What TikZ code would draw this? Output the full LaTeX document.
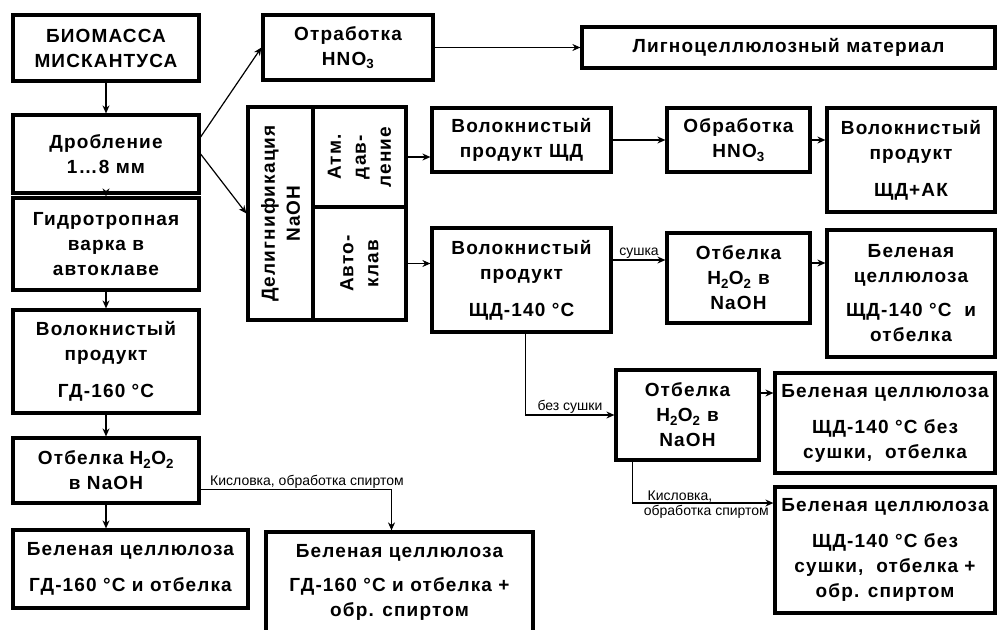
\documentclass[tikz,border=0pt]{standalone}
\usepackage{fontspec}
\setmainfont{Liberation Sans}
\newfontfamily\boxfont{Liberation Sans}[LetterSpace=6]
\usetikzlibrary{arrows.meta}

\tikzset{
  box/.style={draw, line width=3.2pt, align=center, inner sep=2pt,
    font=\boxfont\bfseries\fontsize{19}{25}\selectfont},
  arr/.style={line width=1.2pt, -{Stealth[length=8pt,width=7pt]}},
  lbl/.style={font=\fontsize{14}{15}\selectfont, inner sep=1pt},
}

\begin{document}
\begin{tikzpicture}[x=1pt,y=-1pt]
\useasboundingbox[fill=white] (0,0) rectangle (1000,629);

% Left column
\node[box, minimum width=186, minimum height=66] (bio) at (106,48) {БИОМАССА\\МИСКАНТУСА};
\node[box, minimum width=186, minimum height=78] (drob) at (106,154) {Дробление\\1…8 мм};
\node[box, minimum width=186, minimum height=92] (gidro) at (106,244) {Гидротропная\\варка в\\автоклаве};
\node[box, minimum width=186, minimum height=103] (volgd) at (106,361.5) {Волокнистый\\продукт\\[12pt]ГД-160 °С};
\node[box, minimum width=186, minimum height=65] (otbgd) at (106,470.5) {Отбелка H\textsubscript{2}O\textsubscript{2}\\в NaOH};
\node[box, minimum width=235, minimum height=78] (belgd) at (130.5,569) {Беленая целлюлоза\\[11pt]ГД-160 °С и отбелка};
\node[box, minimum width=267, minimum height=101] (belsp) at (399.5,582.5) {Беленая целлюлоза\\[9pt]ГД-160 °С и отбелка +\\обр. спиртом};

% Top row
\node[box, minimum width=170, minimum height=65] (otrab) at (348,47.5) {Отработка\\HNO\textsubscript{3}};
\node[box, minimum width=413, minimum height=41] (ligno) at (788.5,47.5) {Лигноцеллюлозный материал};

% Delignification block
\node[box, rotate=90, minimum width=213, minimum height=65] (delig) at (280.5,213.5) {Делигнификация\\NaOH};
\node[box, rotate=90, minimum width=100, minimum height=93] (atm) at (359.5,157) {Атм.\\дав-\\ление};
\node[box, rotate=90, minimum width=113, minimum height=93] (avt) at (359.5,263.5) {Авто-\\клав};

% Alkaline branch
\node[box, minimum width=179, minimum height=64] (shd) at (521.5,140) {Волокнистый\\продукт ЩД};
\node[box, minimum width=143, minimum height=64] (obr) at (738.5,140) {Обработка\\HNO\textsubscript{3}};
\node[box, minimum width=168, minimum height=104] (shdak) at (911,160) {Волокнистый\\продукт\\[12pt]ЩД+АК};
\node[box, minimum width=179, minimum height=104] (shd140) at (521.5,280) {Волокнистый\\продукт\\[12pt]ЩД-140 °С};
\node[box, minimum width=143, minimum height=90] (otb1) at (738.5,278) {Отбелка\\H\textsubscript{2}O\textsubscript{2} в\\NaOH};
\node[box, minimum width=168, minimum height=127] (bel1) at (911,293.5) {Беленая\\целлюлоза\\[9pt]ЩД-140 °С\ \ и\\отбелка};
\node[box, minimum width=143, minimum height=90] (otb2) at (687.5,415) {Отбелка\\H\textsubscript{2}O\textsubscript{2} в\\NaOH};
\node[box, minimum width=220, minimum height=100] (bel2) at (885,423) {Беленая целлюлоза\\[11pt]ЩД-140 °С без\\сушки,\ \ отбелка};
\node[box, minimum width=220, minimum height=126] (bel3) at (885,550) {Беленая целлюлоза\\[11pt]ЩД-140 °С без\\сушки,\ \ отбелка +\\обр. спиртом};

% Arrows, left column
\draw[arr] (bio.south) -- (drob.north);
\draw[arr] (drob.south) -- (gidro.north);
\draw[arr] (gidro.south) -- (volgd.north);
\draw[arr] (volgd.south) -- (otbgd.north);
\draw[arr] (otbgd.south) -- (otbgd.south |- belgd.north);
\draw[arr] ([yshift=-19]otbgd.east) -| node[lbl, anchor=south west, pos=0, xshift=8] (lblkis) {Кисловка, обработка спиртом} ([xshift=-8]belsp.north);

% Arrows from crushing
\draw[arr] ([yshift=17]drob.east) -- (otrab.west);
\draw[arr] (drob.east) -- (delig.north);
\draw[arr] (otrab.east) -- (otrab.east -| ligno.west);

% Arrows, alkaline branch
\draw[arr] (atm.south) -- (atm.south -| shd.west);
\draw[arr] (avt.south) -- (avt.south -| shd140.west);
\draw[arr] (shd.east) -- (obr.west);
\draw[arr] (obr.east) -- (obr.east -| shdak.west);
\draw[arr] ([yshift=20]shd140.east) -- node[lbl, above] (lblsush) {сушка} ([yshift=20]shd140.east -| otb1.west);
\draw[arr] ([yshift=15]otb1.east) -- ([yshift=15]otb1.east -| bel1.west);
\draw[arr] ([xshift=4]shd140.south) |- node[lbl, above, pos=0.75] (lblbez) {без сушки} (otb2.west);
\draw[arr] ([yshift=22]otb2.east) -- ([yshift=22]otb2.east -| bel2.west);
\draw[arr] ([xshift=-55]otb2.south) |- ([yshift=47]bel3.west);
\node[lbl, anchor=south] (lblkis2) at (680,503) {Кисловка,};
\node[lbl, anchor=north east] (lblobr) at (770,504) {обработка спиртом};

\end{tikzpicture}
\end{document}
